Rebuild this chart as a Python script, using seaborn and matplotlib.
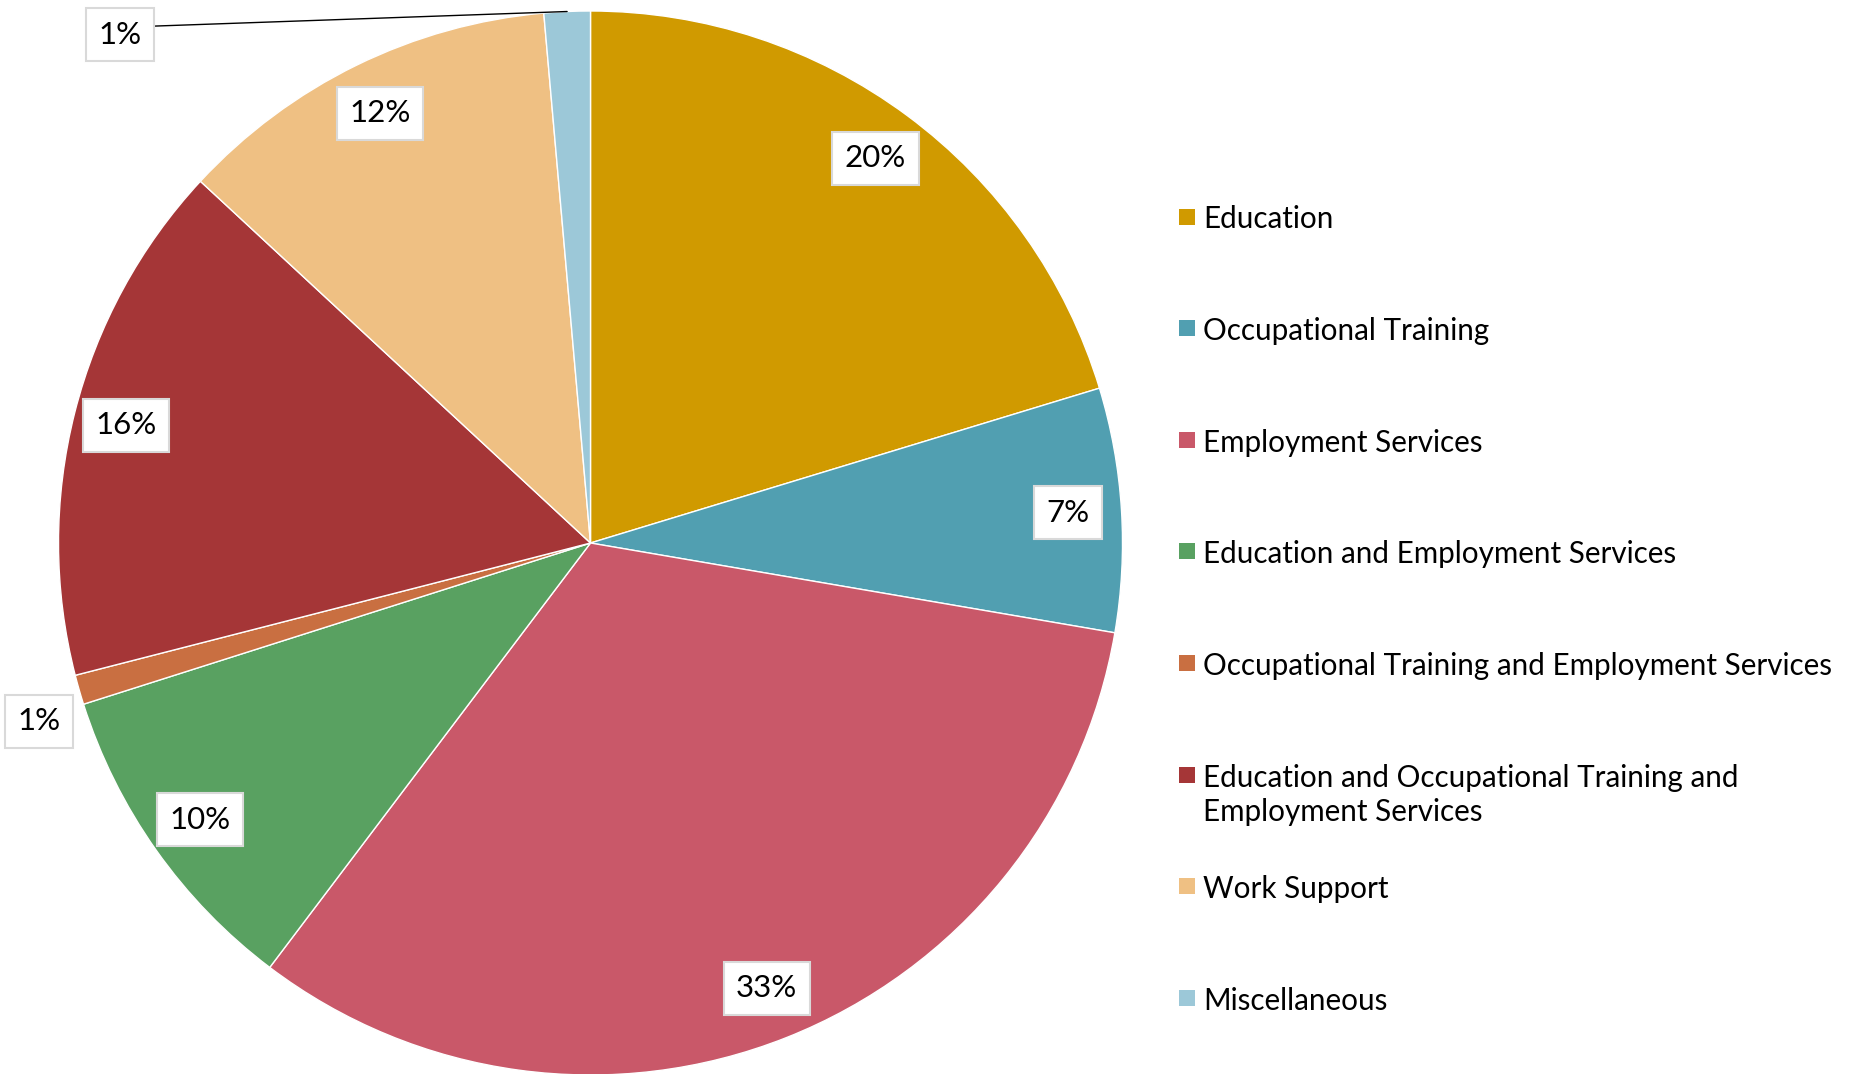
import matplotlib
matplotlib.use("Agg")
import matplotlib.pyplot as plt
import numpy as np
import seaborn as sns

# data (percent of total)
categories = [
    "Education",
    "Occupational Training",
    "Employment Services",
    "Education and Employment Services",
    "Occupational Training and Employment Services",
    "Education and Occupational Training and\nEmployment Services",
    "Work Support",
    "Miscellaneous",
]
shares = [20.3, 7.4, 32.6, 9.8, 0.9, 15.9, 11.7, 1.4]
slice_colors = ["#D09A00", "#519FB1", "#C95869", "#59A161",
                "#C96F41", "#A53637", "#EFC083", "#9CC8D8"]

sns.set_theme(style="white")
plt.rcParams["font.family"] = ["Lato", "DejaVu Sans"]
palette = sns.color_palette(slice_colors)

W, H = 1855, 1074
fig = plt.figure(figsize=(W / 100, H / 100), dpi=100)
fig.patch.set_facecolor("white")

# pie axes: radius 1 -> ~532 px, centre at (590, 543) from top-left
R = 532
cx, cy = 590.5, 543
ax = fig.add_axes([(cx - R) / W, (H - cy - R) / H, 2 * R / W, 2 * R / H])

wedges, texts, autotexts = ax.pie(
    shares,
    colors=palette,
    startangle=90,
    counterclock=False,
    radius=1,
    autopct=lambda p: f"{p:.0f}%",
    pctdistance=0.9,
    wedgeprops=dict(edgecolor="white", linewidth=1),
    textprops=dict(fontsize=22.5, color="black"),
)
ax.set_xlim(-1, 1)
ax.set_ylim(-1, 1)
ax.set_aspect("equal")
ax.axis("off")

box = dict(boxstyle="square,pad=0.4", facecolor="white", edgecolor="#D9D9D9", linewidth=1.5)
for t in autotexts:
    t.set_bbox(box)

# small slices: labels pushed outside the pie
autotexts[4].set_position((-1.036, -0.335))

mid_misc = np.deg2rad((wedges[7].theta1 + wedges[7].theta2) / 2)
autotexts[7].set_visible(False)
ax.annotate(
    autotexts[7].get_text(),
    xy=(np.cos(mid_misc), np.sin(mid_misc)),
    xytext=(-0.884, 0.955),
    ha="center", va="center", fontsize=22.5, color="black",
    bbox=box,
    arrowprops=dict(arrowstyle="-", color="black", lw=1, relpos=(1, 0.8),
                    shrinkA=0, shrinkB=0),
    annotation_clip=False,
)

# legend on the right, drawn in pixel space
lax = fig.add_axes([0, 0, 1, 1])
lax.set_xlim(0, W)
lax.set_ylim(H, 0)
lax.axis("off")
y0, step = 216.5, 111.6
for i, (name, col) in enumerate(zip(categories, palette)):
    y = y0 + i * step
    lax.scatter([1186.5], [y], marker="s", s=140, color=col, linewidths=0)
    lax.text(1203, y - 11, name, va="top", ha="left", fontsize=21.3,
             color="black", linespacing=1.3)

fig.savefig("out.png", dpi=100)
